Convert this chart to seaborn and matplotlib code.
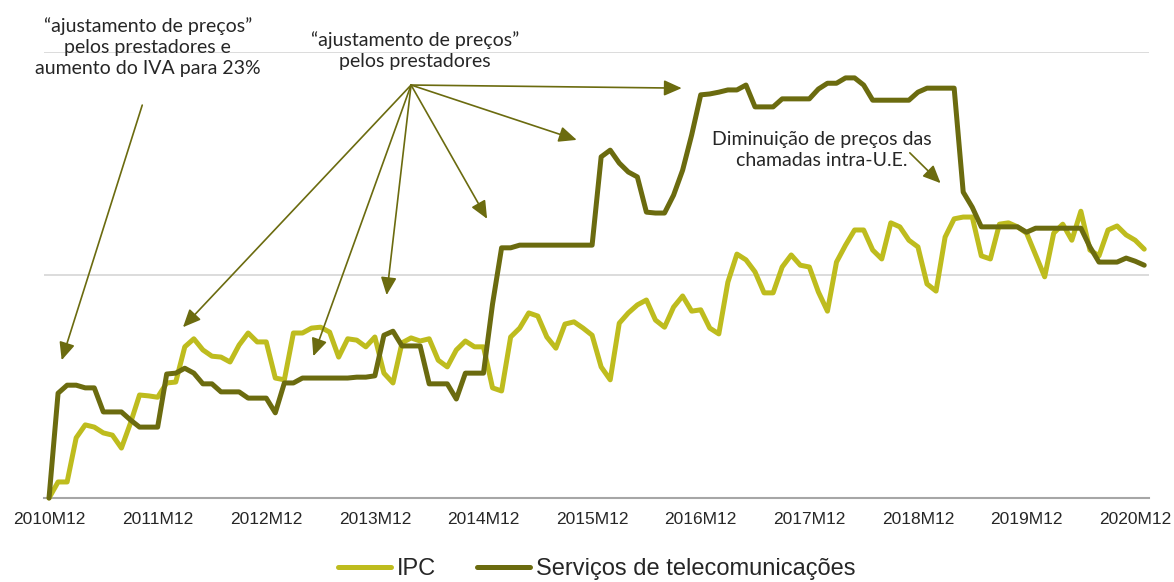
import numpy as np
import pandas as pd
import seaborn as sns
import matplotlib.pyplot as plt

# categorias mensais (2010M12 ... 2021M01)
meses = list(pd.period_range("2010-12", "2021-01", freq="M").strftime("%YM%m"))
rotulos_x = ["2010M12", "2011M12", "2012M12", "2013M12", "2014M12", "2015M12",
             "2016M12", "2017M12", "2018M12", "2019M12", "2020M12"]

# variação acumulada
ipc = [0.00, 0.36, 0.36, 1.35, 1.64, 1.59, 1.46, 1.41, 1.12, 1.68, 2.31, 2.29,
       2.26, 2.58, 2.60, 3.39, 3.57, 3.32, 3.18, 3.16, 3.05, 3.43, 3.70, 3.50,
       3.50, 2.69, 2.65, 3.70, 3.70, 3.81, 3.83, 3.72, 3.16, 3.57, 3.54, 3.39,
       3.61, 2.80, 2.58, 3.48, 3.59, 3.52, 3.57, 3.09, 2.94, 3.32, 3.52, 3.39,
       3.39, 2.47, 2.40, 3.61, 3.81, 4.15, 4.08, 3.61, 3.36, 3.90, 3.95, 3.81,
       3.65, 2.94, 2.65, 3.92, 4.15, 4.33, 4.44, 3.99, 3.83, 4.28, 4.53, 4.19,
       4.22, 3.81, 3.68, 4.84, 5.47, 5.34, 5.07, 4.60, 4.60, 5.18, 5.45, 5.22,
       5.18, 4.62, 4.19, 5.29, 5.67, 6.01, 6.01, 5.56, 5.36, 6.17, 6.08, 5.78,
       5.63, 4.80, 4.64, 5.85, 6.26, 6.30, 6.30, 5.43, 5.36, 6.14, 6.17, 6.08,
       5.94, 5.45, 4.96, 5.94, 6.14, 5.78, 6.43, 5.56, 5.43, 6.01, 6.10, 5.90,
       5.78, 5.58]
telecom = [0.00, 2.35, 2.53, 2.53, 2.47, 2.47, 1.93, 1.93, 1.93, 1.75, 1.59, 1.59,
           1.59, 2.78, 2.80, 2.91, 2.80, 2.56, 2.56, 2.38, 2.38, 2.38, 2.24, 2.24,
           2.24, 1.91, 2.58, 2.58, 2.69, 2.69, 2.69, 2.69, 2.69, 2.69, 2.71, 2.71,
           2.74, 3.65, 3.74, 3.41, 3.41, 3.41, 2.56, 2.56, 2.56, 2.22, 2.80, 2.80,
           2.80, 4.35, 5.61, 5.61, 5.67, 5.67, 5.67, 5.67, 5.67, 5.67, 5.67, 5.67,
           5.67, 7.65, 7.80, 7.51, 7.31, 7.20, 6.41, 6.39, 6.39, 6.79, 7.35, 8.14,
           9.04, 9.06, 9.10, 9.15, 9.15, 9.26, 8.77, 8.77, 8.77, 8.95, 8.95, 8.95,
           8.95, 9.17, 9.30, 9.30, 9.42, 9.42, 9.26, 8.92, 8.92, 8.92, 8.92, 8.92,
           9.10, 9.19, 9.19, 9.19, 9.19, 6.86, 6.52, 6.08, 6.08, 6.08, 6.08, 6.08,
           5.96, 6.05, 6.05, 6.05, 6.05, 6.05, 6.05, 5.63, 5.29, 5.29, 5.29, 5.38,
           5.31, 5.22]

cor_ipc = "#bebc1e"
cor_tel = "#6b6b0f"

sns.set_style("white")
plt.rcParams["font.family"] = ["Liberation Sans", "DejaVu Sans"]

df = pd.DataFrame({"mes": meses, "pos": np.arange(len(meses)),
                   "IPC": ipc, "Serviços de telecomunicações": telecom})

fig = plt.figure(figsize=(11.74, 5.82), dpi=100)
ax = fig.add_axes([0.0379, 0.1443, 0.9406, 0.7663])

sns.lineplot(data=df, x="pos", y="IPC", color=cor_ipc, lw=3.6,
             label="IPC", ax=ax, clip_on=False, zorder=3)
sns.lineplot(data=df, x="pos", y="Serviços de telecomunicações", color=cor_tel,
             lw=3.6, label="Serviços de telecomunicações", ax=ax,
             clip_on=False, zorder=4)

ax.set_xlim(-0.5, len(meses) - 0.5)
ax.set_ylim(0, 10)
ax.set_yticks([5, 10])
ax.set_yticklabels([])
ax.tick_params(axis="y", length=0)
ax.grid(axis="y", color="#d9d9d9", lw=1.3)
ax.set_axisbelow(True)

pos_rot = [meses.index(r) for r in rotulos_x]
ax.set_xticks(pos_rot)
ax.set_xticklabels(rotulos_x, fontsize=12.5)
ax.tick_params(axis="x", which="major", length=0, pad=10)
ax.set_xticks([p - 0.5 for p in pos_rot], minor=True)
ax.tick_params(axis="x", which="minor", direction="in", length=5,
               width=1.3, color="#a6a6a6")
ax.set_xlabel("")
ax.set_ylabel("")

for s in ["top", "right", "left"]:
    ax.spines[s].set_visible(False)
ax.spines["bottom"].set_color("#a6a6a6")
ax.spines["bottom"].set_linewidth(1.5)

# anotações
fonte_nota = ["Lato", "DejaVu Sans"]
seta = dict(arrowstyle="-|>,head_length=0.45,head_width=0.2", color=cor_tel,
            lw=1.2, shrinkA=0, shrinkB=0, mutation_scale=24)

ax.annotate("“ajustamento de preços”\npelos prestadores e\naumento do IVA para 23%",
            xy=(10.9, 10.11), ha="center", va="center", fontsize=14,
            family=fonte_nota, linespacing=1.3, annotation_clip=False)
ax.annotate("", xy=(1.4, 3.09), xytext=(10.3, 8.81), arrowprops=seta)

ax.annotate("“ajustamento de preços”\npelos prestadores",
            xy=(40.4, 10.04), ha="center", va="center", fontsize=14,
            family=fonte_nota, linespacing=1.3, annotation_clip=False)
apice = (40.0, 9.26)
for alvo in [(14.8, 3.83), (29.2, 3.18), (37.3, 4.55), (48.4, 6.26),
             (58.3, 8.03), (69.9, 9.19)]:
    ax.annotate("", xy=alvo, xytext=apice, arrowprops=seta)

ax.annotate("Diminuição de preços das\nchamadas intra-U.E.",
            xy=(85.4, 7.80), ha="center", va="center", fontsize=14,
            family=fonte_nota, linespacing=1.3,
            bbox=dict(fc="white", ec="none", pad=0.5))
ax.annotate("", xy=(98.5, 7.06), xytext=(95.1, 7.74), arrowprops=seta)

leg = ax.legend(loc="center", bbox_to_anchor=(0.5, -0.16), ncol=2,
                frameon=False, fontsize=17, handlelength=2.25,
                handletextpad=0.25, columnspacing=1.7)
for linha in leg.get_lines():
    linha.set_linewidth(3.6)

fig.savefig("out.png", dpi=100)
